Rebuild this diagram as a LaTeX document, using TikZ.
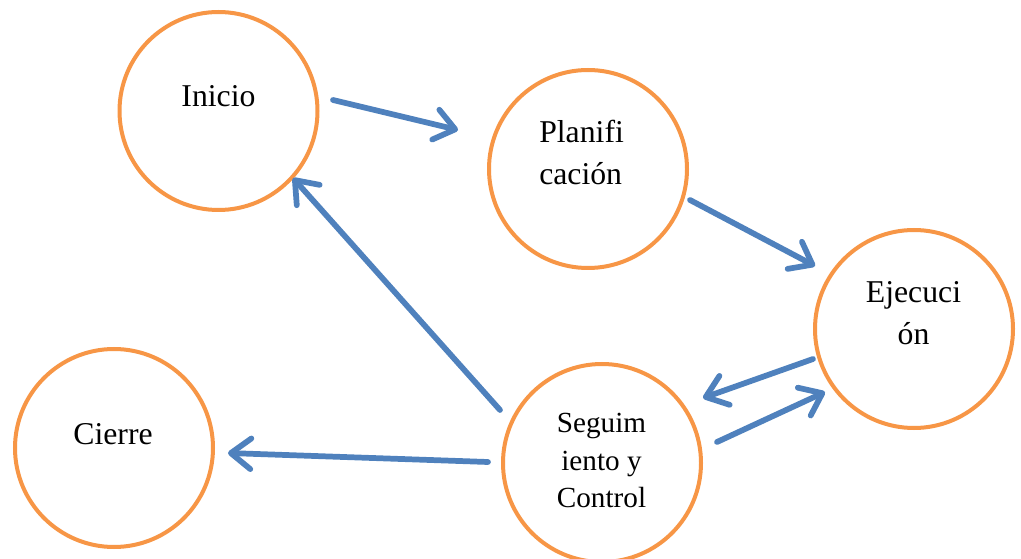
\documentclass[tikz,border=0pt]{standalone}
\usepackage{fontspec}
\setmainfont{Liberation Serif}
\usetikzlibrary{arrows.meta}
\definecolor{ringorange}{HTML}{F79646}
\definecolor{flowblue}{HTML}{4F81BD}
\tikzset{
  phase/.style={circle, draw=ringorange, line width=3pt, fill=white,
    minimum size=148.5pt, inner sep=0pt},
  lbl/.style={text=black, inner sep=0pt, anchor=base,
    font=\fontsize{23.8pt}{31.5pt}\selectfont},
  lblsmall/.style={lbl, font=\fontsize{21.9pt}{28.5pt}\selectfont},
  flow/.style={draw=flowblue, line width=4.3pt, line cap=round,
    -{Straight Barb[length=15pt, width=23pt, line cap=round, round]}},
}
\begin{document}
\begin{tikzpicture}[x=0.75pt, y=-0.75pt]
  \useasboundingbox (0,0) rectangle (1021,559);

  % phases of the project cycle
  \node[phase] (ini)  at (218.5,111) {};
  \node[phase] (plan) at (588,169) {};
  \node[phase] (ejec) at (914,329) {};
  \node[phase] (cier) at (114,448) {};
  \node[phase] (seg)  at (602,463) {};

  % labels
  \node[lbl] (tini) at (218.5,107) {Inicio};
  \node[lbl, anchor=base west] (tplan1) at (539,143) {Planifi};
  \node[lbl, anchor=base west] (tplan2) at (539,185) {cación};
  \node[lbl] (tejec1) at (913.5,303) {Ejecuci};
  \node[lbl] (tejec2) at (913.5,345) {ón};
  \node[lbl] (tcier) at (113,445) {Cierre};
  \node[lblsmall] (tseg1) at (601.5,432) {Seguim};
  \node[lblsmall] (tseg2) at (601.5,470) {iento y};
  \node[lblsmall] (tseg3) at (601.5,508) {Control};

  % arrow end points between the circles
  \coordinate (iniOut)   at (333,100);
  \coordinate (planIn)   at (458,130);
  \coordinate (planOut)  at (690,200);
  \coordinate (ejecIn)   at (815,266);
  \coordinate (ejecOut)  at (813,359);
  \coordinate (segInE)   at (703,398);
  \coordinate (segOutE)  at (717,442);
  \coordinate (ejecInS)  at (825,392);
  \coordinate (segOutI)  at (500,410);
  \coordinate (iniIn)    at (293,178);
  \coordinate (segOutC)  at (488,462);
  \coordinate (cierIn)   at (228,453);

  % flows
  \draw[flow] (iniOut) -- (planIn);
  \draw[flow] (planOut) -- (ejecIn);
  \draw[flow] (ejecOut) -- (segInE);
  \draw[flow] (segOutE) -- (ejecInS);
  \draw[flow] (segOutI) -- (iniIn);
  \draw[flow] (segOutC) -- (cierIn);
\end{tikzpicture}
\end{document}
